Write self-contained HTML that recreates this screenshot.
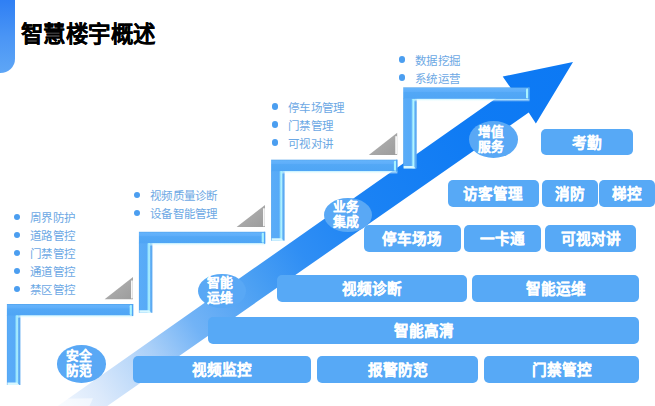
<!DOCTYPE html>
<html lang="zh-CN">
<head>
<meta charset="utf-8">
<style>
html,body{margin:0;padding:0;background:#fff;}
body{width:655px;height:406px;position:relative;overflow:hidden;font-family:"Liberation Sans",sans-serif;}
svg.bg{position:absolute;left:0;top:0;}
.tab{position:absolute;left:0;top:0;width:14.7px;height:73px;border-bottom-right-radius:14.7px 14px;background:linear-gradient(180deg,#2f7ff4 0%,#4a95f5 50%,#5ea6f6 100%);}
.title{position:absolute;left:20.5px;top:20.2px;font-size:22.4px;font-weight:bold;color:#000;line-height:30px;letter-spacing:0.6px;-webkit-text-stroke:0.1px #000;white-space:nowrap;}
.box{position:absolute;background:#57a9f6;border-radius:5px;color:#fff;font-weight:bold;font-size:14.6px;-webkit-text-stroke:0.2px #fff;box-sizing:border-box;padding-bottom:1.6px;display:flex;align-items:center;justify-content:center;white-space:nowrap;}
.ell{position:absolute;background:#59a8f5;border-radius:50%;color:#fff;font-weight:bold;font-size:12.8px;line-height:15.2px;-webkit-text-stroke:0.2px #fff;display:flex;align-items:center;justify-content:center;text-align:center;}
.ell span{display:inline-block;}
.list{position:absolute;font-size:11.5px;letter-spacing:0.25px;line-height:18.1px;color:#6ca8e4;white-space:nowrap;}
.list div{position:relative;}
.list div:before{content:"";position:absolute;left:-16.3px;top:4.5px;width:6.4px;height:6.4px;border-radius:50%;background:#4b9ef0;}
</style>
</head>
<body>
<svg class="bg" width="655" height="406" viewBox="0 0 655 406">
<defs>
  <linearGradient id="arr" gradientUnits="userSpaceOnUse" x1="60" y1="400" x2="573" y2="62">
    <stop offset="0" stop-color="#eef5fe"/>
    <stop offset="0.06" stop-color="#dbe9fb"/>
    <stop offset="0.17" stop-color="#a9cff8"/>
    <stop offset="0.25" stop-color="#72b3f6"/>
    <stop offset="0.37" stop-color="#4a9ff3"/>
    <stop offset="0.46" stop-color="#2f8ef4"/>
    <stop offset="0.6" stop-color="#1a82f4"/>
    <stop offset="0.8" stop-color="#0f7bf4"/>
    <stop offset="1" stop-color="#0c79f4"/>
  </linearGradient>
  <linearGradient id="hb" x1="0" y1="0" x2="0" y2="1">
    <stop offset="0" stop-color="#4b9ee9"/>
    <stop offset="0.09" stop-color="#64b3fb"/>
    <stop offset="0.35" stop-color="#5eaefa"/>
    <stop offset="0.42" stop-color="#53a8f6"/>
    <stop offset="1" stop-color="#4fa5f5"/>
  </linearGradient>
  <linearGradient id="hg" x1="0" y1="0" x2="0" y2="1">
    <stop offset="0" stop-color="#c6f6ff"/>
    <stop offset="1" stop-color="#ffffff" stop-opacity="0"/>
  </linearGradient>
  <linearGradient id="vb" x1="0" y1="0" x2="1" y2="0">
    <stop offset="0" stop-color="#4a9fec"/>
    <stop offset="0.06" stop-color="#5aacf8"/>
    <stop offset="0.6" stop-color="#57aaf7"/>
    <stop offset="0.66" stop-color="#86d6fd"/>
    <stop offset="0.76" stop-color="#b4f6ff"/>
    <stop offset="0.83" stop-color="#86d0fb"/>
    <stop offset="0.87" stop-color="#5eacf4"/>
    <stop offset="1" stop-color="#5aa8f0"/>
  </linearGradient>
  <linearGradient id="tri" x1="0" y1="0" x2="1" y2="1">
    <stop offset="0" stop-color="#b4b4b4"/>
    <stop offset="1" stop-color="#9c9c9c"/>
  </linearGradient>
  <g id="step">
    <rect x="0" y="11" width="13.5" height="70" fill="url(#vb)"/>
    <rect x="0" y="0" width="126.3" height="11.5" fill="url(#hb)"/>
    <polygon points="9,11.5 11.5,11.5 11.5,14" fill="#a8f2ff"/>
    <rect x="11.5" y="11.5" width="114.8" height="3" fill="url(#hg)"/>
    <rect x="122.8" y="1" width="2.5" height="10" rx="1.2" fill="#a8f2ff"/>
    <rect x="125" y="0" width="1.3" height="12" fill="#4fa5f5"/>
    <polygon points="0.5,78.5 10,78.5 12.5,81 0.5,81" fill="#d8f8ff"/>
  </g>
  <g id="tr">
    <polygon points="97.7,-4.8 126.1,-4.8 126.1,-26.9" fill="url(#tri)"/>
    <rect x="124.2" y="-23.5" width="1.6" height="18" fill="#fff"/>
  </g>
</defs>
<!-- arrow -->
<polygon points="37.8,420 510.8,88.05 502.7,76.5 573,62 535.9,123.5 528.7,112.5 87.2,420" fill="url(#arr)"/>
<polygon points="40,399 93,398.3 89,407 40,407" fill="#fff" opacity="0.55"/>
<!-- steps -->
<use href="#step" x="6.9" y="304"/>
<use href="#step" x="138.9" y="231.8"/>
<use href="#step" x="271.1" y="159.7"/>
<use href="#step" x="403.2" y="87.4"/>
<use href="#tr" x="6.9" y="304"/>
<use href="#tr" x="138.9" y="231.8"/>
<use href="#tr" x="271.1" y="159.7"/>
</svg>

<div class="tab"></div>
<div class="title">智慧楼宇概述</div>

<div class="list" style="left:30px;top:209.1px;"><div>周界防护</div><div>道路管控</div><div>门禁管控</div><div>通道管控</div><div>禁区管控</div></div>
<div class="list" style="left:150px;top:187.1px;"><div>视频质量诊断</div><div>设备智能管理</div></div>
<div class="list" style="left:288.2px;top:98.8px;"><div>停车场管理</div><div>门禁管理</div><div>可视对讲</div></div>
<div class="list" style="left:415.2px;top:51.9px;"><div>数据挖掘</div><div>系统运营</div></div>

<div class="ell" style="left:56.9px;top:345.2px;width:49.3px;height:37.5px;"><span style="transform:translate(-2.45px,-0.6px)">安全<br>防范</span></div>
<div class="ell" style="left:197.5px;top:273.6px;width:48.7px;height:34.9px;"><span style="transform:translate(-2.15px,-1px)">智能<br>运维</span></div>
<div class="ell" style="left:323.5px;top:197.6px;width:48.7px;height:34.9px;"><span style="transform:translate(-2.3px,-1.5px)">业务<br>集成</span></div>
<div class="ell" style="left:468.9px;top:120.8px;width:49.3px;height:36.9px;"><span style="transform:translate(-2.5px,0px)">增值<br>服务</span></div>

<div class="box" style="left:133px;top:356px;width:178px;height:27px;">视频监控</div>
<div class="box" style="left:317px;top:356px;width:161px;height:27px;">报警防范</div>
<div class="box" style="left:484px;top:356px;width:155px;height:27px;">门禁管控</div>

<div class="box" style="left:208px;top:317px;width:431px;height:27px;">智能高清</div>

<div class="box" style="left:277px;top:275px;width:189.5px;height:27px;">视频诊断</div>
<div class="box" style="left:472px;top:275px;width:167px;height:27px;">智能运维</div>

<div class="box" style="left:364px;top:225.3px;width:96.5px;height:26.7px;">停车场场</div>
<div class="box" style="left:464.3px;top:225.3px;width:77px;height:26.7px;">一卡通</div>
<div class="box" style="left:544.7px;top:225.3px;width:91.7px;height:26.7px;">可视对讲</div>

<div class="box" style="left:447.5px;top:180.3px;width:91.5px;height:26.3px;">访客管理</div>
<div class="box" style="left:541.5px;top:180.3px;width:56.5px;height:26.3px;">消防</div>
<div class="box" style="left:598.5px;top:180.3px;width:56px;height:26.3px;">梯控</div>

<div class="box" style="left:541.4px;top:128.7px;width:91.6px;height:26.8px;">考勤</div>
</body>
</html>
